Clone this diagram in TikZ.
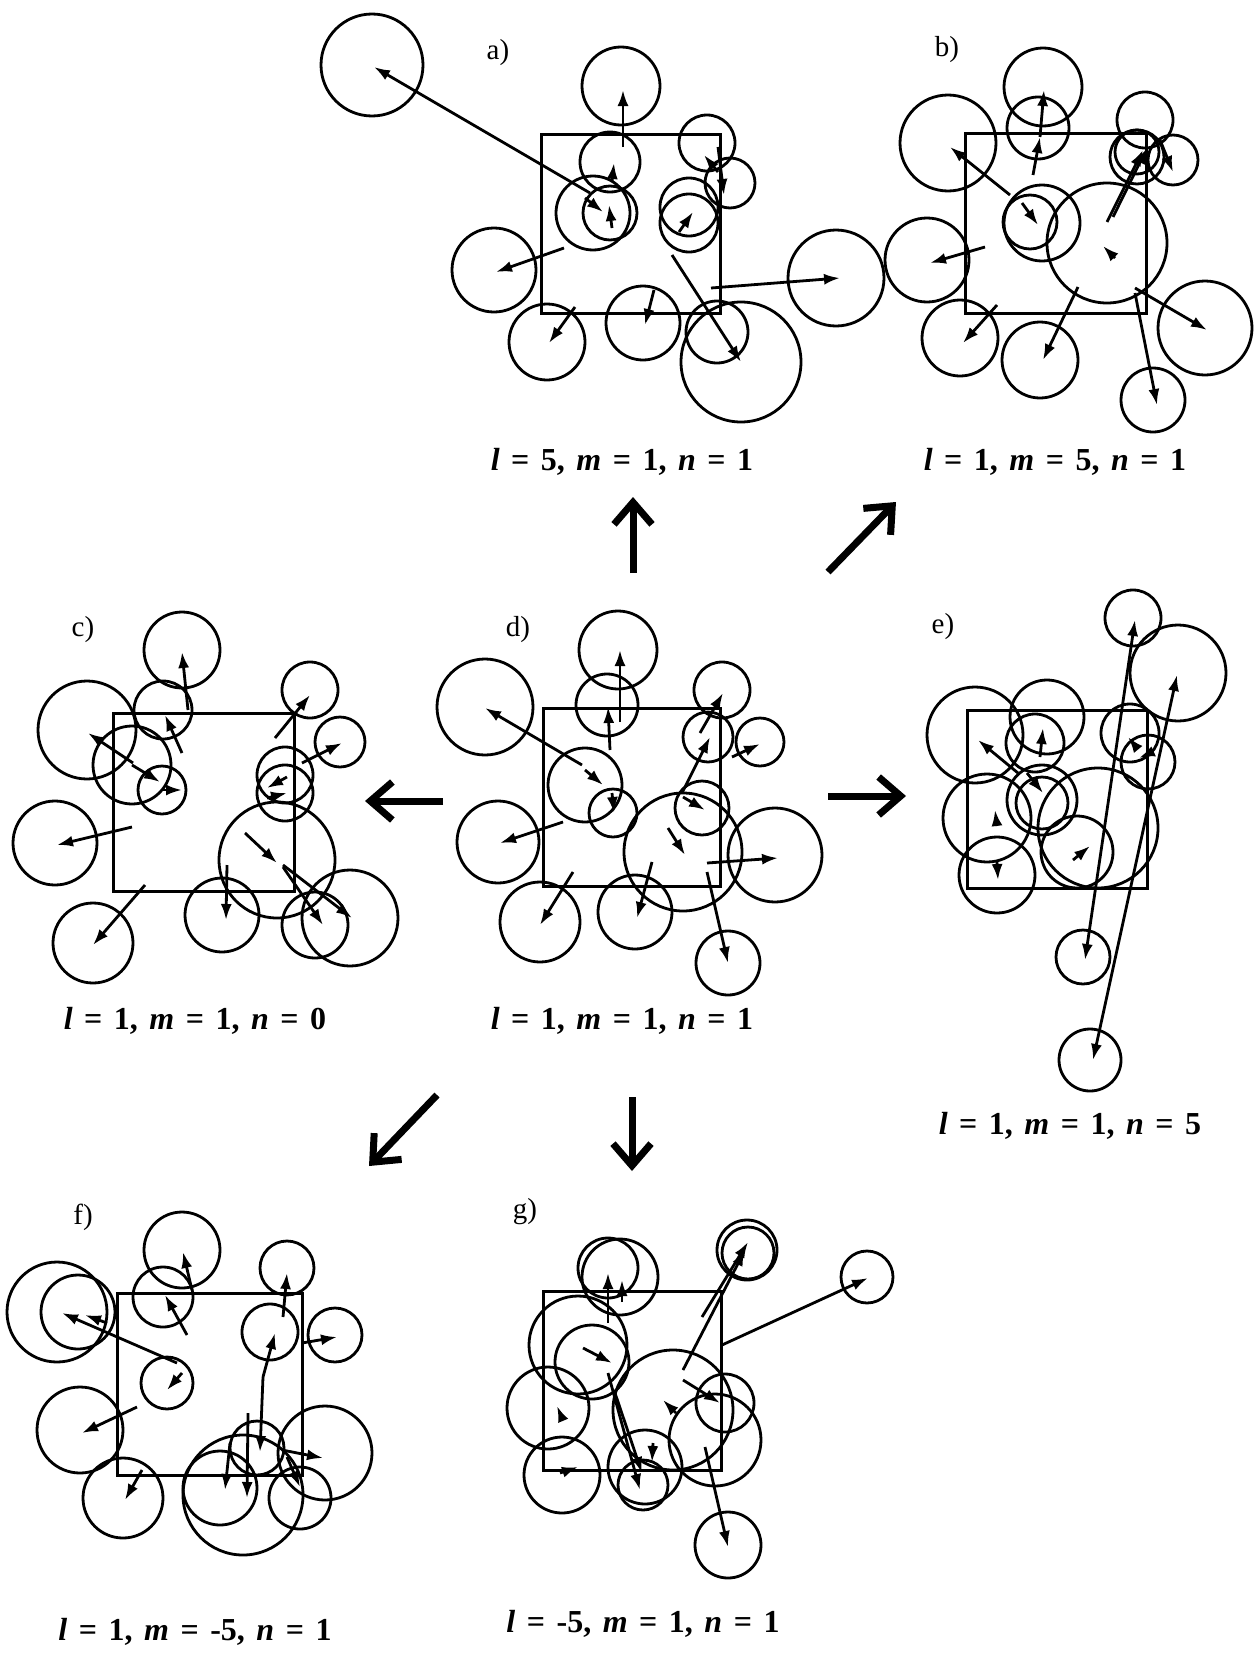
\documentclass[tikz,border=0pt]{standalone}
\usepackage{fontspec}
\setmainfont{Liberation Serif}
\usetikzlibrary{arrows.meta}
\newcommand\vv[1]{\textit{#1}}
% caption of a panel: values of l, m and n
\newcommand\lmntext[3]{\spaceskip=0.36em\relax
  \vv{l} = #1, \vv{m} = #2, \vv{n} = #3}
\tikzset{
  ring/.style={draw, line width=2.8pt},
  vec/.style={line width=2.8pt, -{Latex[length=16pt,width=11pt]}},
  dvec/.style={line width=2.8pt, {Latex[length=16pt,width=11pt]}-{Latex[length=16pt,width=11pt]}},
  cell/.style={draw, line width=3pt},
  bigarr/.style={line width=7pt, -{Straight Barb[length=22pt,width=38pt]}},
  tag/.style={font=\fontsize{29}{32}\selectfont, inner sep=0pt},
  caption/.style={font=\fontsize{32}{36}\selectfont\bfseries, inner sep=0pt}
}
\begin{document}
\begin{tikzpicture}[x=1pt, y=-1pt]
\useasboundingbox (0,0) rectangle (1257,1654);

% ---------------- a) l=5, m=1, n=1
\draw[cell] (541,134) rectangle (720,313);
\foreach \x/\y/\r in {372/65/51, 621/86/39, 610/162/30, 593/213/37, 610/213/27,
  707/143/28, 730/183/25, 689/207/29, 689/223/29, 494/270/42, 547/342/38,
  643/323/37, 836/278/48, 717/332/31, 741/362/60}
  \draw[ring] (\x,\y) circle[radius=\r];
\foreach \a/\b/\c/\d in {590/193/374/67, 623/147/623/90, 612/182/614/163,
  585/198/603/212, 612/228/609/205, 718/147/724/195, 718/172/704/155,
  679/232/693/212, 564/248/496/272, 575/307/549/343, 654/290/645/325,
  711/288/840/278, 672/255/741/362}
  \draw[vec] (\a,\b) -- (\c,\d);
\node[tag] (la) at (498,53) {a)};
\node[caption] (ca) at (622,462) {\lmntext{5}{1}{1}};

% ---------------- b) l=1, m=5, n=1
\draw[cell] (965,133) rectangle (1146,313);
\foreach \x/\y/\r in {1043/87/39, 1038/128/31, 948/143/48, 1030/222/27,
  1042/223/38, 1107/243/60, 1145/120/28, 1137/157/27, 1173/160/25,
  1137/152/22, 927/260/42, 960/338/38, 1040/360/38, 1205/328/47, 1153/400/32}
  \draw[ring] (\x,\y) circle[radius=\r];
\foreach \a/\b/\c/\d in {1033/175/1040/137, 1040/137/1044/90,
  1010/195/950/147, 1022/203/1038/225, 1115/258/1103/246,
  1107/222/1143/150, 1113/217/1147/148, 1160/140/1173/172,
  985/247/930/263, 997/305/963/343, 1078/287/1043/360,
  1135/288/1207/330, 1135/293/1157/405}
  \draw[vec] (\a,\b) -- (\c,\d);
\node[tag] (lb) at (947,50) {b)};
\node[caption] (cb) at (1055,462) {\lmntext{1}{5}{1}};

% ---------------- c) l=1, m=1, n=0
\draw[cell] (113,713) rectangle (294,891);
\foreach \x/\y/\r in {182/650/38, 163/710/29, 87/730/49, 132/765/39,
  162/790/24, 55/843/42, 93/943/40, 310/690/28, 340/742/25, 285/775/28,
  285/793/28, 277/860/58, 222/915/37, 315/925/33, 350/918/48}
  \draw[ring] (\x,\y) circle[radius=\r];
\foreach \a/\b/\c/\d in {188/710/182/652, 182/753/165/715, 133/763/88/733,
  132/765/160/782, 163/790/182/790, 132/827/57/845, 145/885/93/945,
  275/738/310/695, 302/763/342/743, 287/777/267/788, 267/798/287/793,
  245/833/277/863, 227/865/226/920, 283/867/323/925, 283/865/352/918}
  \draw[vec] (\a,\b) -- (\c,\d);
\node[tag] (lc) at (83,630) {c)};
\node[caption] (cc) at (195,1021) {\lmntext{1}{1}{0}};

% ---------------- d) l=1, m=1, n=1
\draw[cell] (543,708) rectangle (720,886);
\foreach \x/\y/\r in {618/650/39, 607/705/31, 485/707/48, 585/785/37,
  613/813/24, 498/842/41, 722/690/28, 708/737/25, 760/742/24, 702/808/27,
  683/852/59, 775/855/47, 635/912/37, 540/922/40, 728/963/32}
  \draw[ring] (\x,\y) circle[radius=\r];
\foreach \a/\b/\c/\d in {620/722/620/650, 610/750/608/707, 582/765/485/708,
  585/770/603/785, 612/793/614/813, 563/822/500/843, 700/733/723/693,
  682/793/710/737, 732/757/760/744, 683/797/705/810, 668/828/685/855,
  707/863/778/858, 652/862/637/918, 573/872/540/925, 707/872/728/963}
  \draw[vec] (\a,\b) -- (\c,\d);
\node[tag] (ld) at (518,630) {d)};
\node[caption] (cd) at (622,1021) {\lmntext{1}{1}{1}};

% ---------------- e) l=1, m=1, n=5
\draw[cell] (967,710) rectangle (1147,888);
\foreach \x/\y/\r in {1133/618/28, 1178/673/48, 975/735/48, 1047/717/37,
  1035/743/29, 987/818/44, 1042/800/35, 1042/803/26, 997/875/38,
  1098/828/60, 1077/852/36, 1130/733/29, 1148/762/27, 1083/957/27,
  1090/1060/31}
  \draw[ring] (\x,\y) circle[radius=\r];
\foreach \a/\b/\c/\d in {1018/773/978/740, 1040/757/1043/728,
  1027/773/1043/793, 997/826/995/810, 997/862/998/880, 1073/860/1090/846,
  1137/748/1128/737, 1150/753/1139/758}
  \draw[vec] (\a,\b) -- (\c,\d);
\draw[dvec] (1135,620) -- (1085,960);
\draw[dvec] (1177,675) -- (1093,1060);
\node[tag] (le) at (943,627) {e)};
\node[caption] (ce) at (1070,1126) {\lmntext{1}{1}{5}};

% ---------------- f) l=1, m=-5, n=1
\draw[cell] (117,1293) rectangle (302,1475);
\foreach \x/\y/\r in {182/1250/38, 163/1297/30, 57/1312/50, 78/1312/37,
  167/1383/26, 80/1430/43, 287/1268/27, 270/1332/28, 335/1335/27,
  123/1498/40, 257/1448/27, 325/1453/47, 220/1488/37, 243/1495/60,
  300/1498/31}
  \draw[ring] (\x,\y) circle[radius=\r];
\foreach \a/\b/\c/\d in {192/1290/183/1252, 187/1335/165/1295,
  177/1363/62/1313, 107/1323/85/1315, 182/1373/167/1390,
  137/1407/82/1433, 283/1317/287/1273, 263/1377/275/1333,
  302/1343/337/1337, 142/1470/125/1500, 263/1377/260/1452,
  248/1413/247/1498, 230/1443/225/1490, 282/1450/323/1458,
  287/1457/300/1487}
  \draw[vec] (\a,\b) -- (\c,\d);
\node[tag] (lf) at (83,1217) {f)};
\node[caption] (cf) at (195,1632) {\lmntext{1}{-5}{1}};

% ---------------- g) l=-5, m=1, n=1
\draw[cell] (543,1291) rectangle (721,1470);
\foreach \x/\y/\r in {608/1268/30, 620/1277/38, 747/1250/30, 748/1253/26,
  867/1277/26, 578/1345/49, 592/1362/37, 548/1408/41, 562/1475/38,
  673/1410/60, 645/1467/37, 643/1485/25, 725/1403/29, 715/1440/46,
  728/1545/33}
  \draw[ring] (\x,\y) circle[radius=\r];
\foreach \a/\b/\c/\d in {608/1323/608/1273, 622/1302/622/1280,
  702/1317/748/1242, 683/1370/745/1250, 722/1345/868/1278,
  583/1348/612/1363, 608/1373/640/1490, 615/1393/642/1473,
  653/1443/652/1462, 683/1380/720/1403, 676/1413/663/1400,
  562/1418/557/1406, 705/1447/728/1547, 560/1473/578/1467}
  \draw[vec] (\a,\b) -- (\c,\d);
\node[tag] (lg) at (525,1212) {g)};
\node[caption] (cg) at (643,1624) {\lmntext{-5}{1}{1}};

% ---------------- transitions out of d)
\coordinate (upS) at (633,573);   \coordinate (upE) at (633,497);
\coordinate (urS) at (828,572);   \coordinate (urE) at (896,502);
\coordinate (lfS) at (443,801);   \coordinate (lfE) at (365,801);
\coordinate (rtS) at (828,796);   \coordinate (rtE) at (906,796);
\coordinate (dlS) at (437,1095);  \coordinate (dlE) at (369,1166);
\coordinate (dnS) at (632,1097);  \coordinate (dnE) at (632,1171);
\draw[bigarr] (upS) -- (upE);
\draw[bigarr] (urS) -- (urE);
\draw[bigarr] (lfS) -- (lfE);
\draw[bigarr] (rtS) -- (rtE);
\draw[bigarr] (dlS) -- (dlE);
\draw[bigarr] (dnS) -- (dnE);
\end{tikzpicture}
\end{document}
